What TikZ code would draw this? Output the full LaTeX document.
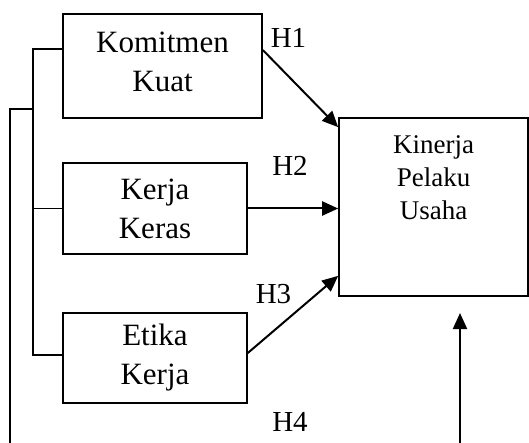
\documentclass[tikz,border=0pt]{standalone}
\usepackage{fontspec}
\setmainfont{Liberation Serif}
\usetikzlibrary{arrows.meta}
\begin{document}
\begin{tikzpicture}[x=1pt,y=-1pt,
  varbox/.style={draw,line width=1.6pt,inner sep=0pt,align=center,
    font=\fontsize{31}{39}\selectfont},
  outbox/.style={draw,line width=1.6pt,inner sep=0pt,align=center,
    font=\fontsize{27}{33}\selectfont},
  link/.style={line width=1.6pt},
  arr/.style={line width=2pt,-{Triangle[length=16pt,width=14pt]}},
  hlabel/.style={anchor=base,inner sep=0pt,font=\fontsize{29}{33}\selectfont}]
\useasboundingbox (0,0) rectangle (529,443);

% independent variables
\node[varbox,minimum width=199pt,minimum height=104pt,text depth=8pt]
  (k1) at (162.5,66) {Komitmen\\Kuat};
\node[varbox,minimum width=184pt,minimum height=91pt]
  (k2) at (155,208.5) {Kerja\\Keras};
\node[varbox,minimum width=184pt,minimum height=90pt]
  (k3) at (155,358) {Etika\\Kerja};

% dependent variable
\node[outbox,minimum width=189pt,minimum height=178pt,text depth=58pt]
  (kp) at (433.5,207) {Kinerja\\Pelaku\\Usaha};

% bracket joining the three variables
\coordinate (b1) at (33,49);
\coordinate (b3) at (33,355);
\coordinate (bo) at (33,109);
\coordinate (o1) at (10,443);
\draw[link] ([yshift=17pt]k1.west) -- (b1) -- (b3) -- ([yshift=3pt]k3.west);
\draw[link] (k2.west) -- (k2.west -| b1);
\draw[link] (o1) |- (bo);

% hypothesis arrows
\draw[arr] ([yshift=16pt]k1.east) -- ([yshift=-10pt]kp.north west);
\draw[arr] (k2.east) -- (k2.east -| kp.west);
\draw[arr] ([yshift=5pt]k3.east) -- ([yshift=21pt]kp.south west);
\coordinate (h4s) at (460,443);
\coordinate (h4e) at (460,313);
\draw[arr] (h4s) -- (h4e);

% hypothesis labels
\node[hlabel] (h1) at (288.5,48) {H1};
\node[hlabel] (h2) at (290,176) {H2};
\node[hlabel] (h3) at (273.5,303) {H3};
\node[hlabel] (h4) at (290,431) {H4};
\end{tikzpicture}
\end{document}
